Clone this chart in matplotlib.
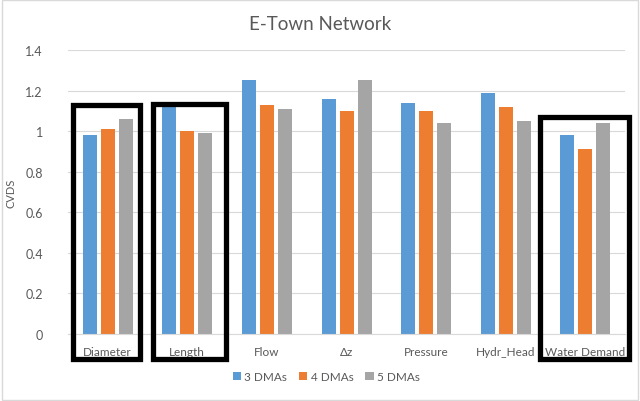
import matplotlib
matplotlib.use("Agg")
import matplotlib.pyplot as plt
import matplotlib.patches as mpatches
import numpy as np

categories = ["Diameter", "Length", "Flow", "\u0394z", "Pressure", "Hydr_Head", "Water Demand"]
dma3 = [0.98, 1.12, 1.25, 1.16, 1.14, 1.19, 0.98]
dma4 = [1.01, 1.00, 1.13, 1.10, 1.10, 1.12, 0.91]
dma5 = [1.06, 0.99, 1.11, 1.25, 1.04, 1.05, 1.04]
series_names = ["3 DMAs", "4 DMAs", "5 DMAs"]
colors = ["#5B9BD5", "#ED7D31", "#A5A5A5"]

# highlighted categories: (index, left offset, right offset, top of box in data units)
highlights = [(0, -0.44, 0.41, 1.13), (1, -0.43, 0.48, 1.135), (6, -0.57, 0.55, 1.07)]

plt.rcParams["font.family"] = ["Lato", "DejaVu Sans"]
txt = "#595959"

fig = plt.figure(figsize=(6.4, 4.02), dpi=100)
ax = fig.add_axes([0.106, 0.167, 0.871, 0.706])

x = np.arange(len(categories))
w = 0.176
step = 0.226
for i, (vals, name, c) in enumerate(zip([dma3, dma4, dma5], series_names, colors)):
    ax.bar(x + (i - 1) * step, vals, width=w, color=c, label=name, zorder=2)

ax.set_xlim(-0.5, len(categories) - 0.5)
ax.set_ylim(0, 1.4)
ax.set_yticks(np.arange(0, 1.41, 0.2))
ax.set_yticklabels(["0", "0.2", "0.4", "0.6", "0.8", "1", "1.2", "1.4"])
ax.set_xticks(x)
ax.set_xticklabels(categories)
ax.tick_params(length=0, labelsize=9, colors=txt)
ax.tick_params(axis="x", labelsize=8.5, pad=9)
ax.tick_params(axis="y", pad=18)
ax.grid(axis="y", color="#D9D9D9", linewidth=0.8, zorder=0)
for s in ["top", "right", "left"]:
    ax.spines[s].set_visible(False)
ax.spines["bottom"].set_color("#D9D9D9")

ax.set_ylabel("CVDS", fontsize=8, color=txt, labelpad=6)
fig.text(0.5, 0.94, "E-Town Network", ha="center", va="center", fontsize=13.5, color=txt)

# black boxes around highlighted categories
for idx, lo, hi, top in highlights:
    bottom = -0.125
    rect = mpatches.Rectangle((idx + lo, bottom), hi - lo, top - bottom, fill=False,
                              edgecolor="black", linewidth=3.8, clip_on=False, zorder=5)
    ax.add_patch(rect)

fig.legend(loc="center", bbox_to_anchor=(0.51, 0.06), ncol=3, frameon=False,
           fontsize=8.5, labelcolor=txt, handlelength=0.7, handleheight=0.7,
           handletextpad=0.3, columnspacing=1.0)

fig.patches.append(mpatches.Rectangle((0.003, 0.003), 0.994, 0.994, transform=fig.transFigure,
                                      fill=False, edgecolor="#D9D9D9", linewidth=1))

fig.savefig("out.png", dpi=100)
